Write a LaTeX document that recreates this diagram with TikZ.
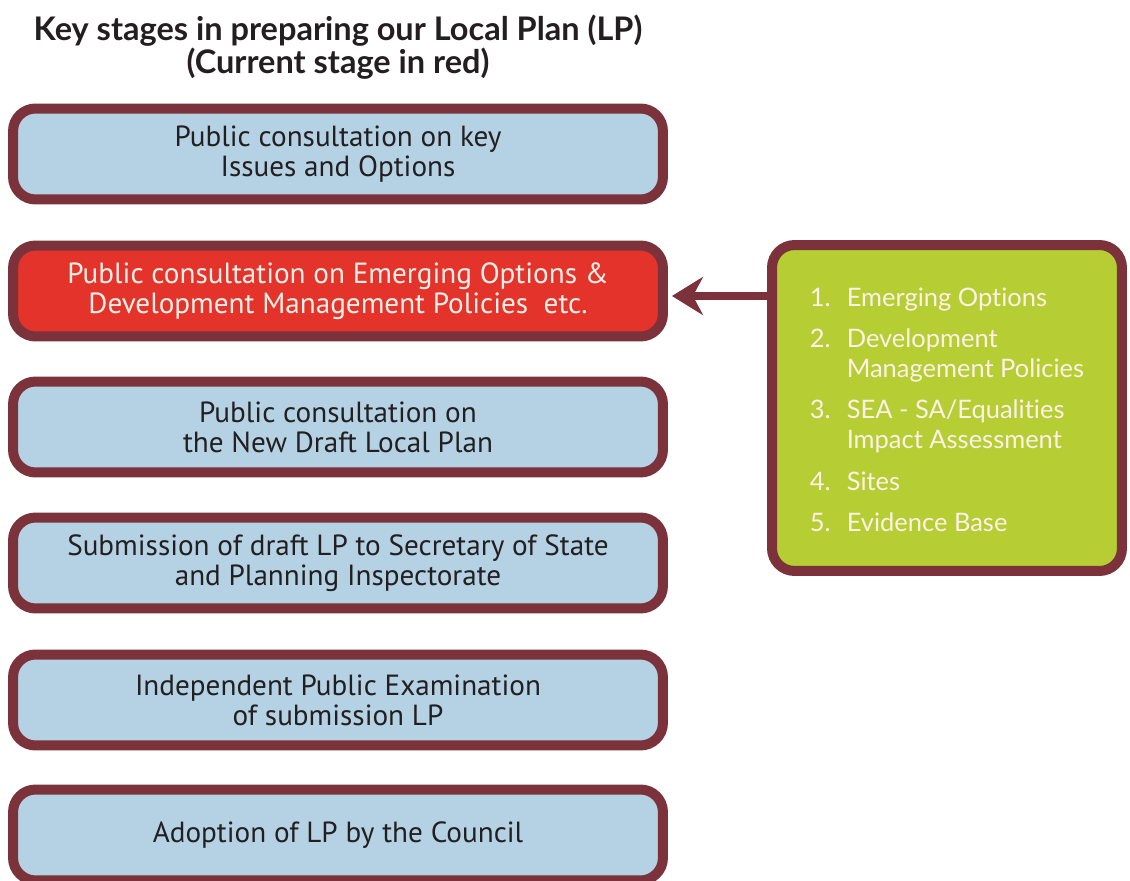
\documentclass[tikz,border=0pt]{standalone}
\usepackage{fontspec}
\setmainfont{PT Sans}
\newfontfamily\gillfont[Ligatures=NoCommon]{Lato}
\usetikzlibrary{arrows.meta}

\definecolor{stageedge}{HTML}{7B323A}
\definecolor{stageblue}{HTML}{B4D2E4}
\definecolor{stagered}{HTML}{E4332B}
\definecolor{listgreen}{HTML}{B6CE34}
\definecolor{inkdark}{HTML}{231F20}
\definecolor{inklight}{HTML}{FBF1E8}

\begin{document}
\begin{tikzpicture}[x=0.02cm, y=-0.02cm, font=\fontsize{16.6}{17}\selectfont,
	stage/.style={draw=stageedge, line width=0.2cm, fill=stageblue, rounded corners=0.45cm,
		minimum width=13cm, minimum height=1.82cm, align=center, text=inkdark, inner sep=0pt},
	current/.style={stage, fill=stagered, text=inklight},
	feeder/.style={draw=stageedge, line width=0.2cm, fill=listgreen, rounded corners=0.45cm,
		minimum width=7cm, minimum height=6.52cm, align=left, text=inklight, inner sep=0pt}]
	\useasboundingbox (0,0) rectangle (1130,881);
	% heading
	\node[font=\gillfont\bfseries\fontsize{18.5}{18.8}\selectfont, align=center, text=inkdark] (title) at (338,47)
	  {Key stages in preparing our Local Plan (LP)\\(Current stage in red)};
	% the six stages
	\node[stage] (stage1) at (338,154) {Public consultation on key\\Issues and Options};
	\node[current] (stage2) at (338,291) {Public consultation on Emerging Options \&\\Development Management Policies\ \ etc.};
	\node[stage] (stage3) at (338,427) {Public consultation on\\the New Draft Local Plan};
	\node[stage] (stage4) at (338,563) {Submission of draft LP to Secretary of State\\and Planning Inspectorate};
	\node[stage] (stage5) at (338,700) {Independent Public Examination\\of submission LP};
	\node[stage] (stage6) at (338,835) {Adoption of LP by the Council};
	% what goes into the current stage
	\node[feeder, font=\gillfont\fontsize{14.5}{17}\selectfont] (inputs) at (947,408) {%
	  \raisebox{0pt}[\dimexpr\height+5.7pt\relax]{\begin{tabular}{@{}l@{}l@{}}
	  \makebox[21pt][l]{1.} & Emerging Options\\[6.6pt]
	  \makebox[21pt][l]{2.} & Development\\
	   & Management Policies\\[6.6pt]
	  \makebox[21pt][l]{3.} & SEA - SA/Equalities\\
	   & Impact Assessment\\[6.6pt]
	  \makebox[21pt][l]{4.} & Sites\\[6.6pt]
	  \makebox[21pt][l]{5.} & Evidence Base
	  \end{tabular}}};
	\draw[stageedge, line width=0.16cm, -{Stealth[length=0.62cm, width=0.76cm, inset=0.2cm]}, shorten >=0.08cm]
	  ([yshift=-0.1cm]inputs.west |- stage2.east) -- ([yshift=-0.1cm]stage2.east);
\end{tikzpicture}
\end{document}
